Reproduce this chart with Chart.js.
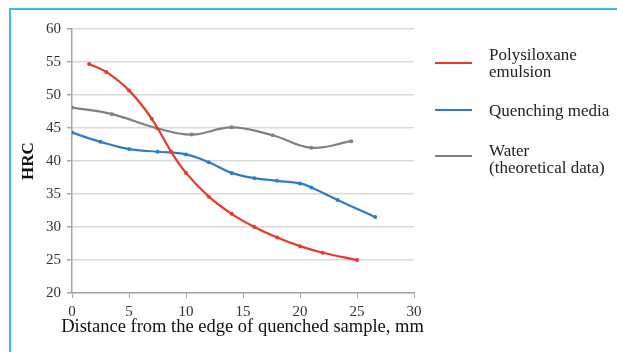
<!DOCTYPE html>
<html>
<head>
<meta charset="utf-8">
<script src="https://cdn.jsdelivr.net/npm/chart.js@4/dist/chart.umd.min.js"></script>
<style>
  html, body { margin: 0; padding: 0; background: #fff; }
  #wrap { position: relative; width: 617px; height: 352px; overflow: hidden; }
  #c { position: absolute; left: 0; top: 0; }
  .frameL { position: absolute; left: 9px; top: 8px; width: 2px; height: 344px; background: #3fb8ea; }
  .frameT { position: absolute; left: 9px; top: 8px; width: 608px; height: 2px; background: #3fb8ea; }
  .leg { position: absolute; font-family: "Liberation Serif", "Times New Roman", serif; font-size: 17px; line-height: 17px; color: #222; }
  .sw { position: absolute; height: 2px; width: 37px; }
  #xtitle { position: absolute; left: 0; width: 485px; top: 316px; text-align: center; font-family: "Liberation Serif", "Times New Roman", serif; font-size: 18.5px; line-height: 20px; color: #111; white-space: nowrap; }
</style>
</head>
<body>
<div id="wrap">
  <canvas id="c" width="617" height="352"></canvas>
  <div class="frameL"></div>
  <div class="frameT"></div>
  <div id="xtitle"></div>
  <div id="legend"></div>
</div>
<script>
// Series labels
const seriesNames = ["Polysiloxane emulsion", "Quenching media", "Water (theoretical data)"];
const legendLines = [["Polysiloxane", "emulsion"], ["Quenching media"], ["Water", "(theoretical data)"]];
const seriesColors = ["#e8392a", "#2f7cc6", "#808080"];

// Polysiloxane emulsion
const polyX = [1.5, 3, 5, 7, 8.7, 10, 12, 14, 16, 18, 20, 22, 25];
const polyY = [54.7, 53.5, 50.7, 46.4, 41.4, 38.2, 34.6, 32.0, 30.0, 28.4, 27.1, 26.1, 25.0];

// Quenching media
const quenchX = [0, 2.5, 5, 7.5, 10, 12, 14, 16, 18, 20, 21, 23.3, 26.6];
const quenchY = [44.3, 42.9, 41.8, 41.4, 41.0, 39.8, 38.2, 37.4, 37.0, 36.6, 36.0, 34.1, 31.5];

// Water (theoretical data)
const waterX = [0, 3.5, 7.4, 10.5, 14, 17.6, 21, 24.5];
const waterY = [48.1, 47.1, 45.0, 44.0, 45.1, 43.9, 42.0, 43.0];

// Axis ticks
const xTicks = [0, 5, 10, 15, 20, 25, 30];
const yTicks = [20, 25, 30, 35, 40, 45, 50, 55, 60];

const xTitle = "Distance from the edge of quenched sample, mm";
const yTitle = "HRC";

function pts(xs, ys) { return xs.map((x, i) => ({ x: x, y: ys[i] })); }

const FONT = '"Liberation Serif", "Times New Roman", serif';

const datasets = [
  { label: seriesNames[0], data: pts(polyX, polyY), borderColor: seriesColors[0], backgroundColor: seriesColors[0] },
  { label: seriesNames[1], data: pts(quenchX, quenchY), borderColor: seriesColors[1], backgroundColor: seriesColors[1] },
  { label: seriesNames[2], data: pts(waterX, waterY), borderColor: seriesColors[2], backgroundColor: seriesColors[2] }
].map(d => Object.assign(d, { borderWidth: 2.2, tension: 0.4, pointRadius: 0.9, pointHoverRadius: 0.9, fill: false }));

new Chart(document.getElementById('c'), {
  type: 'line',
  data: { datasets: datasets },
  options: {
    responsive: false,
    animation: false,
    devicePixelRatio: 1,
    layout: { padding: { left: 0, right: 203, top: 29, bottom: 0 } },
    plugins: { legend: { display: false }, tooltip: { enabled: false } },
    scales: {
      x: {
        type: 'linear', min: 0, max: 30,
        afterBuildTicks: s => { s.ticks = xTicks.map(v => ({ value: v })); },
        afterFit: s => { s.height = 59; },
        grid: { drawOnChartArea: false, drawTicks: true, tickLength: 5, color: '#a6a6a6', lineWidth: 1 },
        border: { display: true, color: '#a6a6a6', width: 1.5 },
        ticks: { padding: 5, color: '#333', font: { family: FONT, size: 15 } },
        title: { display: false }
      },
      y: {
        type: 'linear', min: 20, max: 60,
        afterBuildTicks: s => { s.ticks = yTicks.map(v => ({ value: v })); },
        afterFit: s => { s.width = 72; },
        grid: { drawOnChartArea: true, drawTicks: true, tickLength: 5, color: '#d9d9d9', lineWidth: 1.5, tickColor: '#a6a6a6' },
        border: { display: true, color: '#a6a6a6', width: 1.5 },
        ticks: { padding: 6, color: '#333', font: { family: FONT, size: 15 } },
        title: { display: true, text: yTitle, color: '#111', font: { family: FONT, size: 17, weight: 'bold' }, padding: { top: 18, bottom: 0 } }
      }
    }
  }
});

document.getElementById('xtitle').textContent = xTitle;

// HTML legend
const legendTops = [46, 102, 142];
const swatchY = [63, 110, 156];
const lg = document.getElementById('legend');
legendLines.forEach((lines, i) => {
  const sw = document.createElement('div');
  sw.className = 'sw';
  sw.style.left = '435px';
  sw.style.top = (swatchY[i] - 1) + 'px';
  sw.style.background = seriesColors[i];
  lg.appendChild(sw);
  const t = document.createElement('div');
  t.className = 'leg';
  t.style.left = '489px';
  t.style.top = legendTops[i] + 'px';
  t.innerHTML = lines.join('<br>');
  lg.appendChild(t);
});
</script>
</body>
</html>
